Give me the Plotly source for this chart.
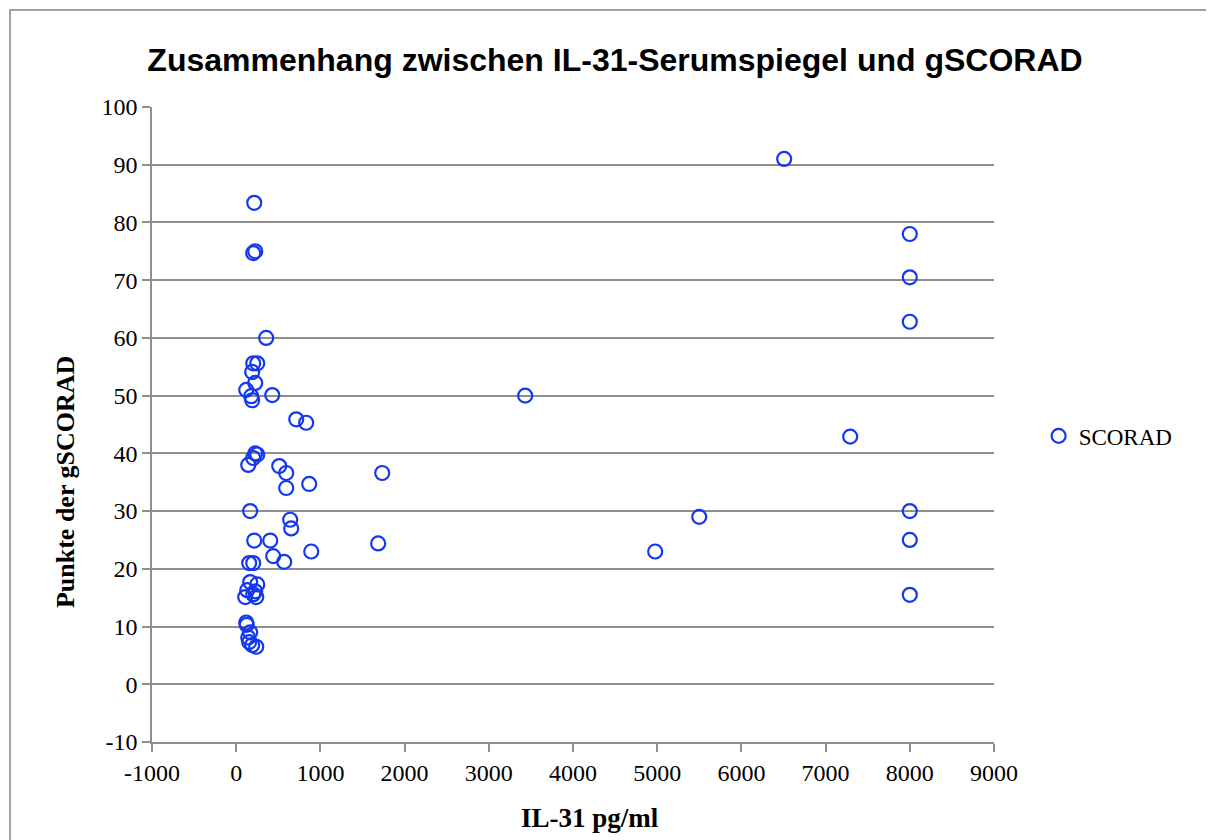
import plotly.graph_objects as go

# IL-31 serum level (pg/ml) and gSCORAD points
il31 = [214, 202, 226, 356, 202, 250, 190, 226, 119, 428, 178, 190,
        713, 831, 226, 250, 202, 143, 511, 594, 1734, 594, 867, 166,
        641, 653, 214, 404, 1686, 891, 439, 570, 154, 202, 166, 250,
        131, 226, 107, 238, 202, 119, 125, 166, 143, 154, 190, 238,
        6508, 8000, 8000, 8000, 3432, 7292, 8000, 5499, 4976, 8000, 8000]
scorad = [83.4, 74.7, 75.0, 60.0, 55.6, 55.6, 54.1, 52.2, 51.0, 50.1, 49.9, 49.2,
          45.9, 45.3, 40.0, 39.8, 39.2, 38.0, 37.8, 36.6, 36.6, 34.0, 34.7, 30.0,
          28.5, 27.0, 24.9, 24.9, 24.4, 23.0, 22.2, 21.2, 21.0, 21.0, 17.7, 17.3,
          16.3, 16.1, 15.1, 15.1, 15.6, 10.7, 10.3, 9.0, 8.1, 7.3, 6.8, 6.5,
          91.0, 78.0, 70.5, 62.8, 50.0, 42.9, 30.0, 29.0, 23.0, 25.0, 15.5]

x_ticks = [-1000, 0, 1000, 2000, 3000, 4000, 5000, 6000, 7000, 8000, 9000]
y_ticks = [-10, 0, 10, 20, 30, 40, 50, 60, 70, 80, 90, 100]

serif = "Liberation Serif"
grid = "#8e8e8e"

fig = go.Figure()
fig.add_trace(go.Scatter(
    x=il31, y=scorad, mode="markers", name="SCORAD",
    marker=dict(symbol="circle-open", size=14, color="#1438f0",
                line=dict(width=2.2, color="#1438f0")),
))

fig.update_layout(
    width=1214, height=840,
    paper_bgcolor="white", plot_bgcolor="white",
    margin=dict(l=144, r=228, t=99, b=106),
    title=dict(text="<b>Zusammenhang zwischen IL-31-Serumspiegel und gSCORAD</b>",
               font=dict(family="Liberation Sans", size=32, color="black"),
               x=0.5, xref="container", xanchor="center", y=0.938, yanchor="middle"),
    showlegend=True,
    legend=dict(x=1.053, y=0.482, xanchor="left", yanchor="middle",
                itemwidth=30,
                font=dict(family=serif, size=23, color="black"),
                bgcolor="rgba(0,0,0,0)"),
    font=dict(family=serif, size=23, color="black"),
)

fig.update_xaxes(
    range=[-1000, 9000], tickvals=x_ticks, ticktext=[str(v) for v in x_ticks],
    showgrid=False, zeroline=False,
    showline=True, linecolor=grid, linewidth=1.5,
    ticks="outside", ticklen=8, tickcolor=grid, tickwidth=1.5,
    tickfont=dict(family=serif, size=24),
)
fig.update_yaxes(
    range=[-10, 100], tickvals=y_ticks, ticktext=[str(v) for v in y_ticks],
    showgrid=True, gridcolor=grid, gridwidth=1.5, zeroline=False,
    showline=True, linecolor=grid, linewidth=1.5,
    ticks="outside", ticklen=8, tickcolor=grid, tickwidth=1.5,
    tickfont=dict(family=serif, size=24),
)

# axis titles placed as in the reference
fig.add_annotation(text="<b>IL-31 pg/ml</b>", xref="paper", yref="paper",
                   x=0.520, y=-0.1197, xanchor="center", yanchor="middle",
                   showarrow=False, font=dict(family=serif, size=27))
fig.add_annotation(text="<b>Punkte der gSCORAD</b>", xref="paper", yref="paper",
                   x=-0.1033, y=0.4094, xanchor="center", yanchor="middle",
                   textangle=-90, showarrow=False, font=dict(family=serif, size=26))

# outer chart border
fig.add_shape(type="rect", xref="paper", yref="paper",
              x0=-0.1686, x1=1.4, y0=-0.3, y1=1.1528,
              line=dict(color="#a0a0a0", width=2), layer="below")

fig.write_html("out.html")
